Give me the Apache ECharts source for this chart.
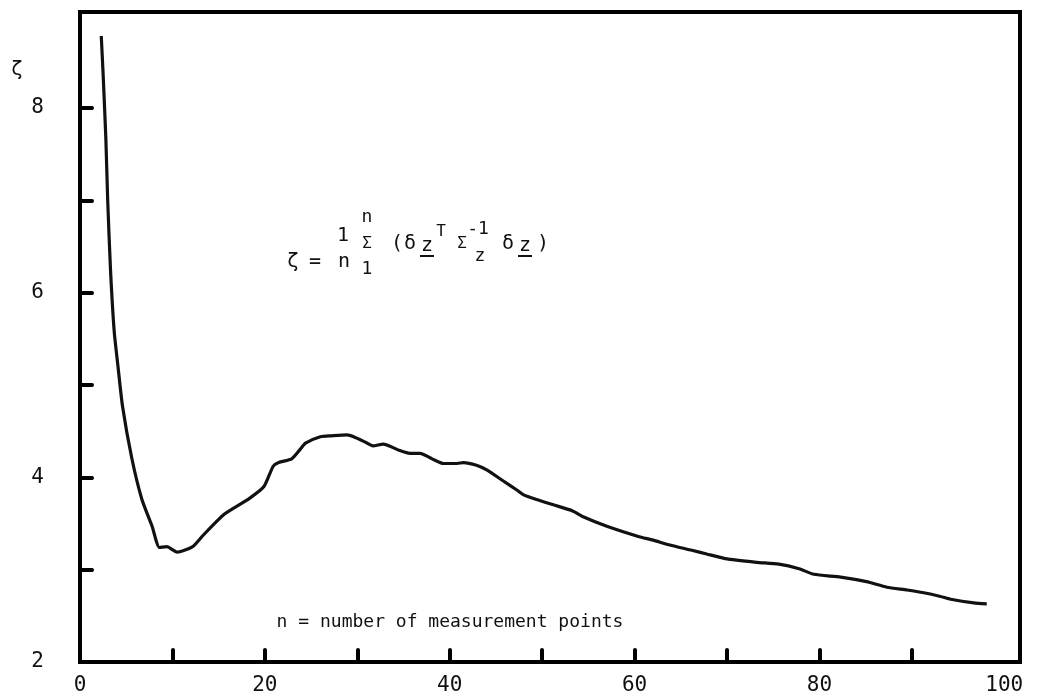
<!DOCTYPE html>
<html>
<head>
    <meta charset="utf-8">
    <title>zeta vs n</title>
    <style>
        html, body { margin: 0; padding: 0; background: #fff; }
        #container { width: 1040px; height: 698px; }
    </style>
</head>
<body>
<div id="container"></div>
<script src="https://cdn.jsdelivr.net/npm/echarts@6/dist/echarts.min.js"></script>
<script type="text/javascript">
    // number of measurement points
    var nValues = [2.3, 2.5, 2.8, 3.0, 3.3, 3.7, 4.1, 4.6, 5.6, 6.7, 7.8, 8.6, 9.4, 10.5, 12.2, 13.3, 15.6, 18.3,
        19.9, 20.9, 21.5, 22.9, 23.8, 24.4, 26.0, 27.2, 28.9, 29.6, 30.7, 31.7, 32.8, 34.6, 35.7, 36.8, 38.1,
        39.3, 40.8, 41.5, 42.9, 44.0, 45.8, 47.3, 48.0, 49.4, 51.3, 53.2, 54.5, 57.0, 60.4, 62.0, 63.7, 66.2,
        67.8, 69.8, 73.2, 75.6, 77.8, 79.4, 82.3, 85.1, 87.3, 89.5, 91.3, 93.1, 94.2, 96.7, 98.1];
    // zeta
    var zetaValues = [8.78, 8.37, 7.66, 6.99, 6.25, 5.58, 5.21, 4.77, 4.21, 3.76, 3.47, 3.24, 3.25, 3.19, 3.25, 3.37, 3.60, 3.77,
        3.90, 4.12, 4.16, 4.20, 4.30, 4.37, 4.44, 4.45, 4.46, 4.44, 4.39, 4.34, 4.36, 4.29, 4.26, 4.26, 4.20,
        4.15, 4.15, 4.16, 4.13, 4.08, 3.96, 3.86, 3.81, 3.76, 3.70, 3.64, 3.57, 3.47, 3.36, 3.32, 3.27, 3.21,
        3.17, 3.12, 3.08, 3.06, 3.01, 2.95, 2.92, 2.87, 2.81, 2.78, 2.75, 2.71, 2.68, 2.64, 2.63];

    var xTicks = [10, 20, 30, 40, 50, 60, 70, 80, 90];
    var xLabels = [0, 20, 40, 60, 80, 100];
    var yTicks = [3, 4, 5, 6, 7, 8];
    var yLabels = [2, 4, 6, 8];

    var font = "'DejaVu Sans Mono', monospace";

    var seriesData = nValues.map(function (n, i) { return [n, zetaValues[i]]; });

    function txt(str, x, y, size) {
        return {
            type: 'text', x: x, y: y,
            style: { text: str, font: (size || 20) + 'px ' + font, fill: '#111', align: 'center', verticalAlign: 'middle' }
        };
    }
    function underline(x1, x2, y) {
        return { type: 'line', shape: { x1: x1, y1: y, x2: x2, y2: y }, style: { stroke: '#111', lineWidth: 2 } };
    }

    var myChart = echarts.init(document.getElementById('container'));

    var option = {
        backgroundColor: '#fff',
        animation: false,
        grid: {
            left: 80, top: 12, right: 20, bottom: 36,
            show: true, borderColor: '#000', borderWidth: 4
        },
        xAxis: {
            type: 'value',
            min: 0,
            max: 101.7,
            axisLine: { show: false },
            splitLine: { show: false },
            axisTick: {
                inside: true, length: 12, customValues: xTicks,
                lineStyle: { color: '#000', width: 4, cap: 'round' }
            },
            axisLabel: {
                customValues: xLabels,
                color: '#111', fontFamily: font, fontSize: 21, margin: 13
            }
        },
        yAxis: {
            type: 'value',
            min: 2,
            max: 9.04,
            axisLine: { show: false },
            splitLine: { show: false },
            axisTick: {
                inside: true, length: 12, customValues: yTicks,
                lineStyle: { color: '#000', width: 4, cap: 'round' }
            },
            axisLabel: {
                customValues: yLabels,
                color: '#111', fontFamily: font, fontSize: 21, margin: 36
            }
        },
        graphic: [
            txt('ζ', 17, 70, 20),
            txt('n = number of measurement points', 450, 622, 18),
            // formula
            txt('ζ', 293, 262, 20),
            txt('=', 315, 262, 20),
            txt('1', 343, 236, 20),
            txt('n', 344, 262, 20),
            txt('n', 367, 217, 18),
            txt('Σ', 367, 244, 16),
            txt('1', 367, 269, 18),
            txt('(', 397, 244, 20),
            txt('δ', 410, 244, 20),
            txt('z', 427, 246, 20),
            underline(420, 434, 256),
            txt('T', 441, 232, 16),
            txt('Σ', 462, 244, 16),
            txt('-1', 478, 229, 18),
            txt('z', 480, 256, 18),
            txt('δ', 508, 244, 20),
            txt('z', 525, 246, 20),
            underline(518, 532, 256),
            txt(')', 543, 244, 20)
        ],
        series: [{
            type: 'line',
            data: seriesData,
            smooth: 0.2,
            showSymbol: false,
            lineStyle: { color: '#111', width: 3.2 }
        }]
    };

    if (option && typeof option === 'object') {
        myChart.setOption(option, true);
    }
</script>
</body>
</html>
